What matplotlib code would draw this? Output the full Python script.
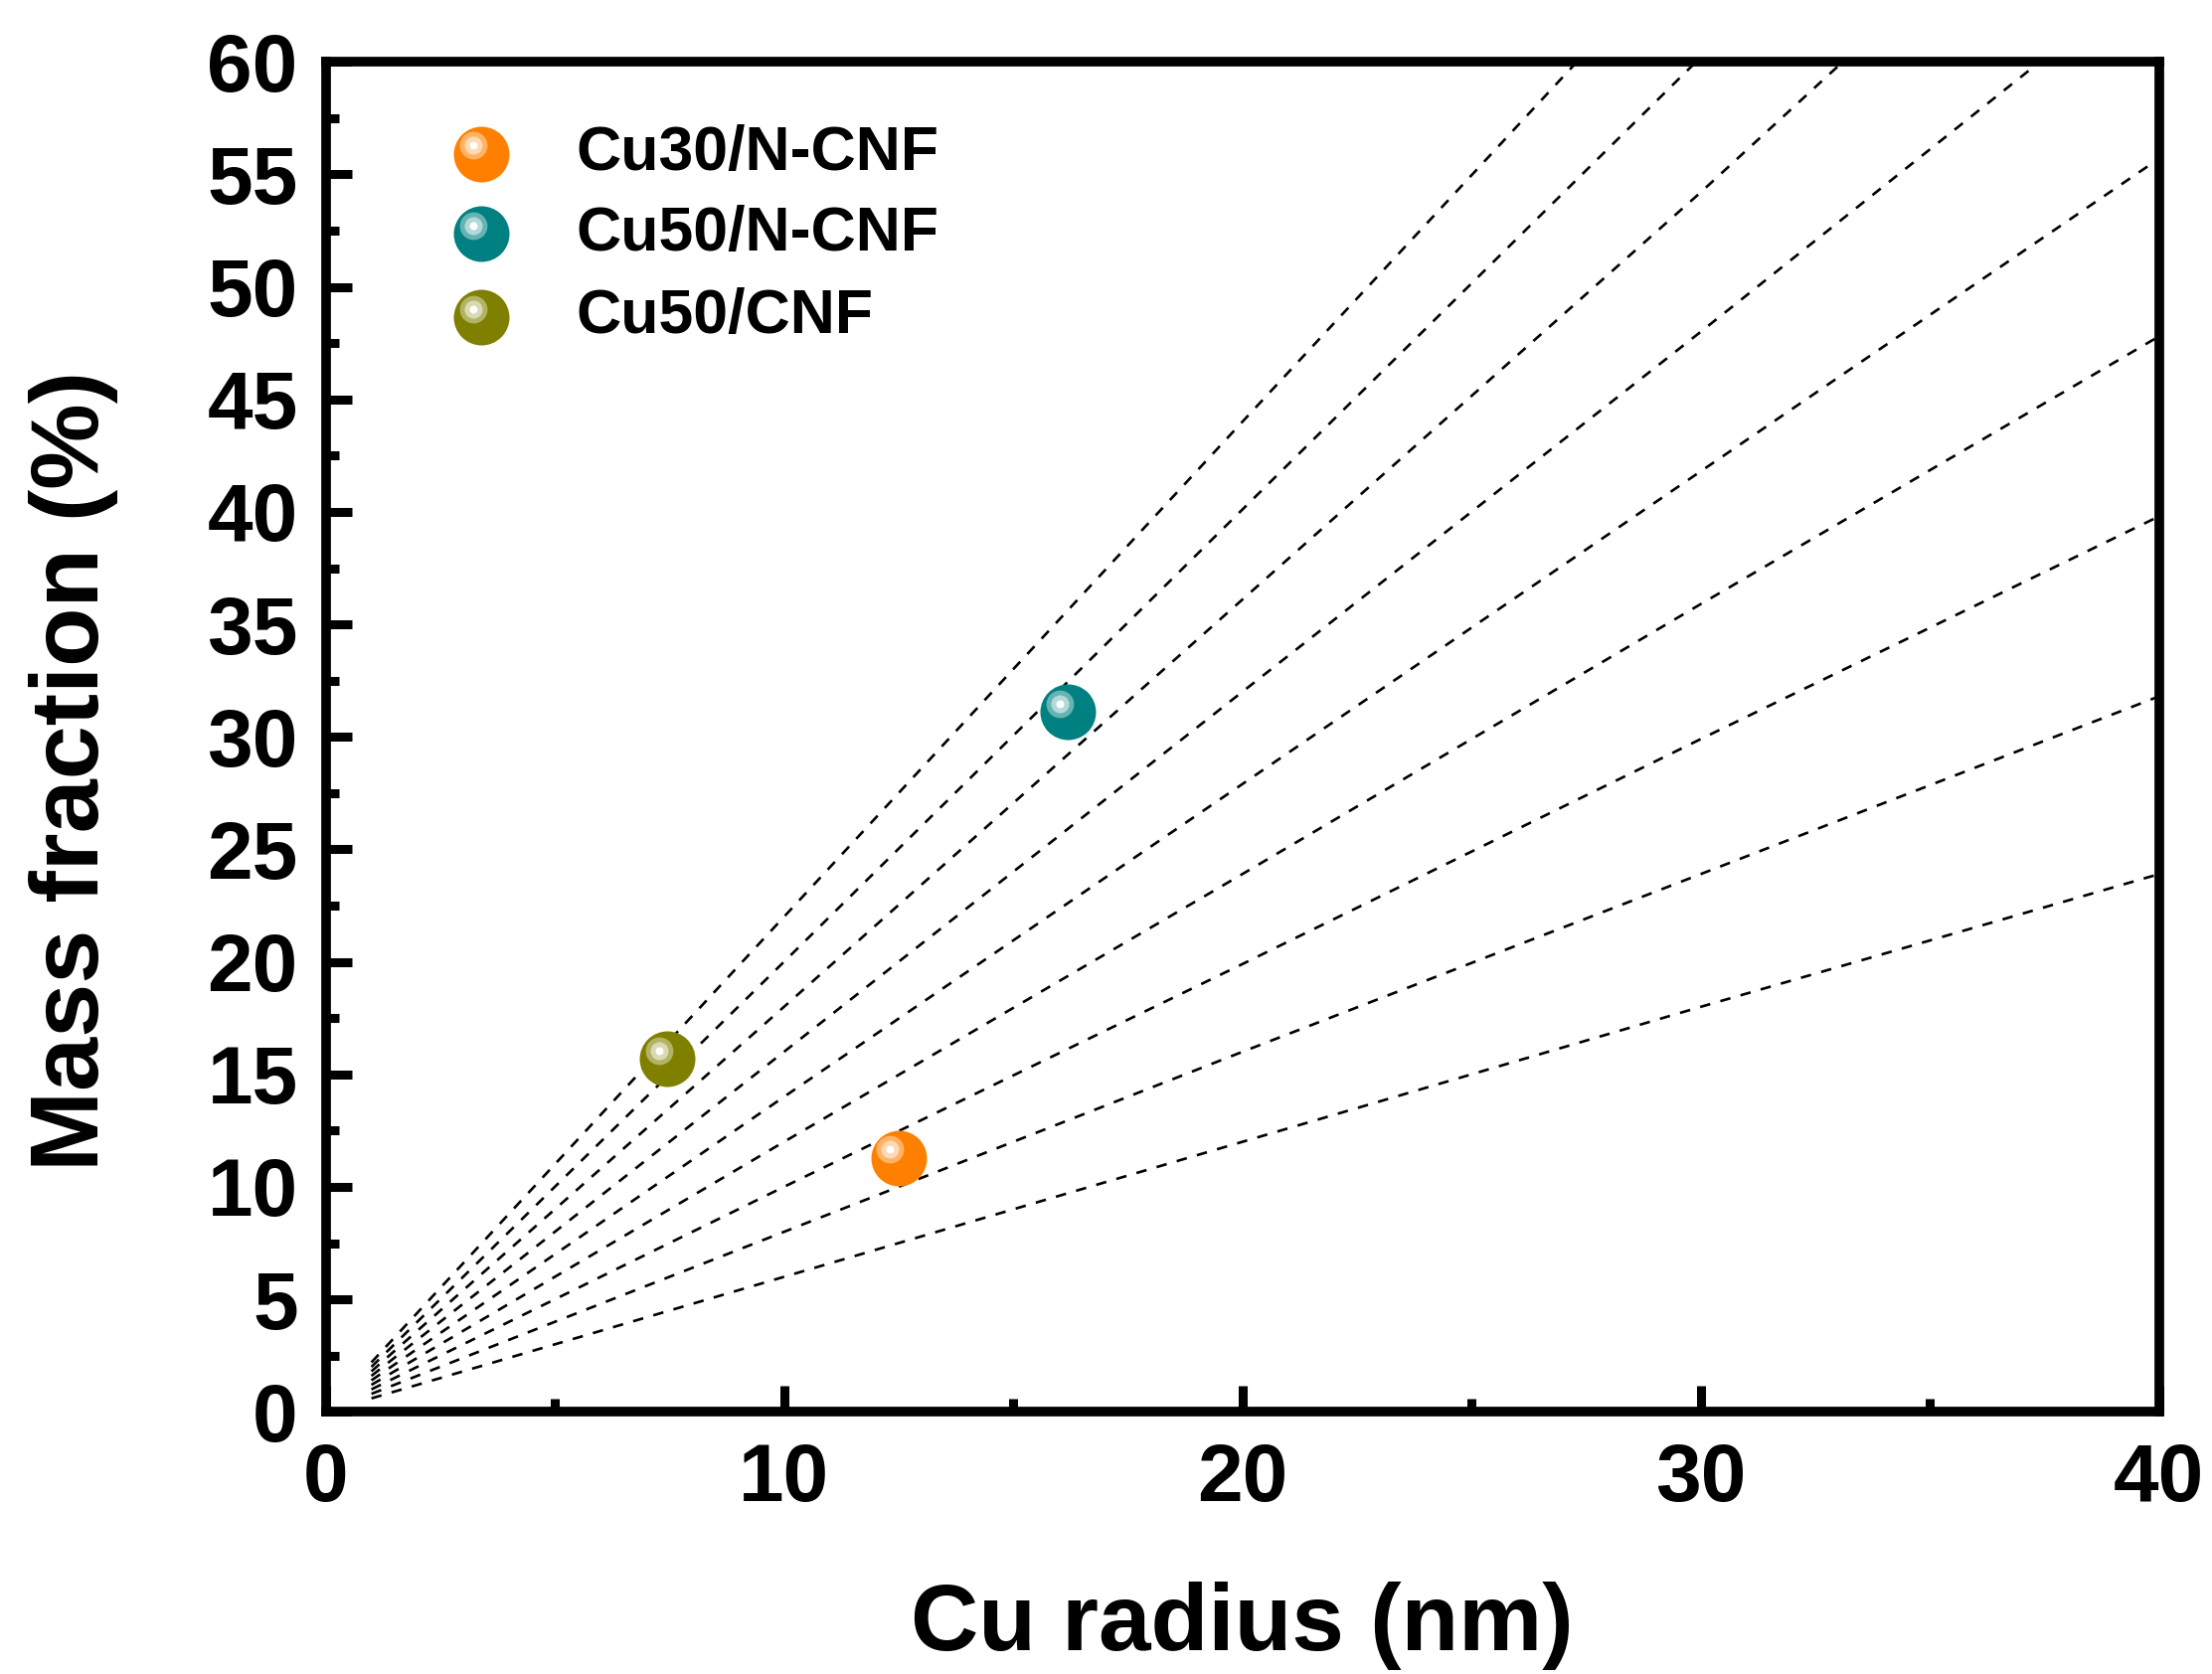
import matplotlib
matplotlib.use('Agg')
import matplotlib.pyplot as plt
from matplotlib.ticker import MultipleLocator
from matplotlib.transforms import offset_copy

plt.rcParams['font.family'] = ['Liberation Sans', 'DejaVu Sans']
plt.rcParams['font.weight'] = 'bold'

# dashed guide lines (Cu radius in nm, mass fraction in %)
line_x = [
    [1, 10, 20, 30, 40],
    [1, 10, 20, 30, 40],
    [1, 10, 20, 30, 40],
    [1, 10, 20, 30, 40],
    [1, 10, 20, 30, 40],
    [1, 10, 20, 30, 37.4],
    [1, 10, 20, 30, 33.1],
    [1, 10, 20, 29.9],
    [1, 10, 20, 27.3],
]
line_y = [
    [0.6, 6.0, 12.0, 18.0, 23.9],
    [0.8, 8.0, 16.0, 23.9, 31.8],
    [1.0, 10.0, 19.9, 29.9, 39.8],
    [1.2, 12.0, 23.9, 35.9, 47.8],
    [1.4, 14.0, 27.9, 41.8, 55.7],
    [1.6, 16.0, 32.0, 48.0, 60.0],
    [1.8, 18.0, 36.1, 54.2, 60.0],
    [2.0, 20.0, 40.1, 60.0],
    [2.2, 22.0, 44.0, 60.0],
]

# samples
names = ['Cu30/N-CNF', 'Cu50/N-CNF', 'Cu50/CNF']
radius = [12.5, 16.2, 7.46]
fraction = [11.3, 31.1, 15.7]
colors = ['#ff8000', '#008080', '#808000']
light1 = ['#ffb366', '#66b3b3', '#b3b366']
light2 = ['#ffd9b3', '#b3d9d9', '#d9d9b3']

fig = plt.figure(figsize=(22.25, 16.84), dpi=100)
ax = fig.add_axes([0.1472, 0.1566, 0.8288, 0.8064])

for xs, ys in zip(line_x, line_y):
    ax.plot(xs, ys, color='black', lw=1.9, linestyle=(0, (4, 4)), zorder=2)

# glossy ball: base disc + two lighter rings + white spot, shifted up-left
hl = offset_copy(ax.transData, fig=fig, x=-6, y=6, units='points')


def ball(x, y, i, tr_base, tr_hl):
    ax.scatter([x], [y], s=1625, color=colors[i], lw=0, transform=tr_base, zorder=5, clip_on=False)
    ax.scatter([x], [y], s=400, color=light1[i], lw=0, transform=tr_hl, zorder=6, clip_on=False)
    ax.scatter([x], [y], s=170, color=light2[i], lw=0, transform=tr_hl, zorder=7, clip_on=False)
    ax.scatter([x], [y], s=33, color='white', lw=0, transform=tr_hl, zorder=8, clip_on=False)


for i in range(len(names)):
    ball(radius[i], fraction[i], i, ax.transData, hl)

# legend drawn by hand so the markers keep the glossy look
hl_ax = offset_copy(ax.transAxes, fig=fig, x=-6, y=6, units='points')
leg_y = [0.932, 0.8725, 0.811]
for i, name in enumerate(names):
    ball(0.0849, leg_y[i], i, ax.transAxes, hl_ax)
    ax.text(0.1364, leg_y[i], name, transform=ax.transAxes, fontsize=45,
            fontweight='bold', va='center', ha='left')

ax.set_xlim(0, 40)
ax.set_ylim(0, 60)
ax.xaxis.set_major_locator(MultipleLocator(10))
ax.xaxis.set_minor_locator(MultipleLocator(5))
ax.yaxis.set_major_locator(MultipleLocator(5))
ax.yaxis.set_minor_locator(MultipleLocator(2.5))

ax.tick_params(which='both', direction='in', top=False, right=False, width=6.5)
ax.tick_params(which='major', length=19, labelsize=59)
ax.tick_params(axis='x', which='major', pad=22)
ax.tick_params(axis='y', which='major', pad=20)
ax.tick_params(which='minor', length=9.7)
for lab in ax.get_xticklabels() + ax.get_yticklabels():
    lab.set_fontweight('bold')

for sp in ax.spines.values():
    sp.set_linewidth(7)

ax.set_xlabel('Cu radius (nm)', fontsize=68, fontweight='bold')
ax.set_ylabel('Mass fraction (%)', fontsize=70, fontweight='bold')
ax.xaxis.set_label_coords(0.5, -0.126)
ax.yaxis.set_label_coords(-0.113, 0.475)

plt.savefig('out.png', dpi=100)
